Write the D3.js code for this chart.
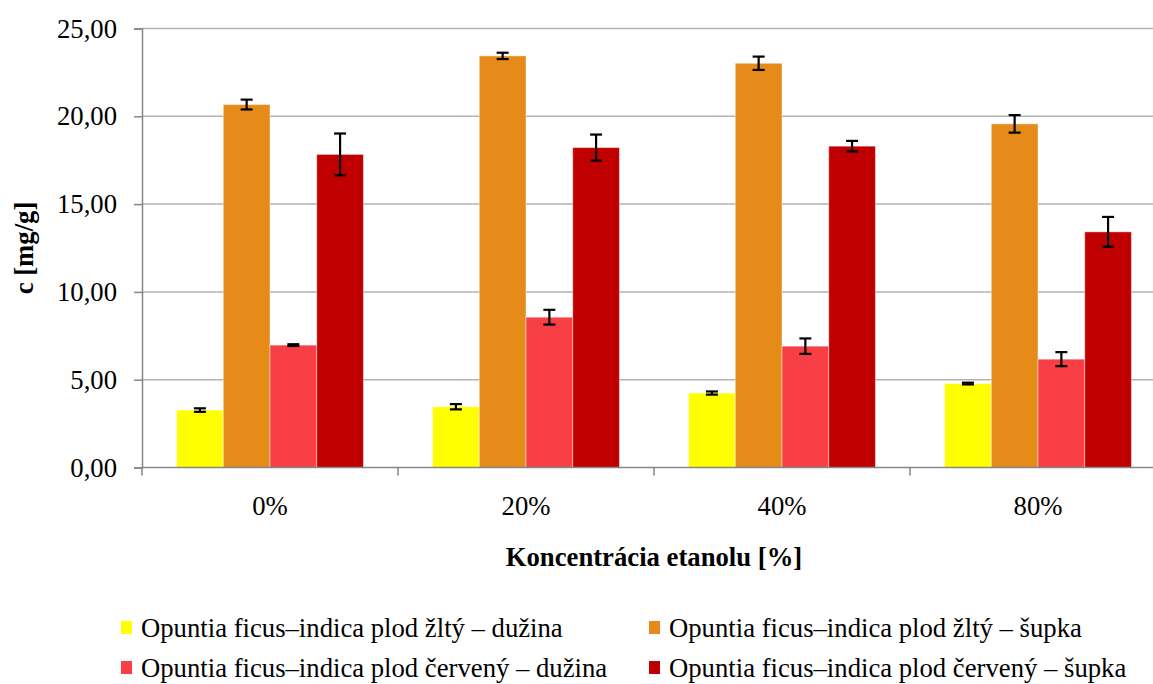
<!DOCTYPE html>
<html>
<head>
<meta charset="utf-8">
<script src="https://cdn.jsdelivr.net/npm/d3@7"></script>
<style>
  html, body { margin: 0; padding: 0; background: #fff; }
  svg { display: block; }
</style>
</head>
<body>
<svg id="chart" width="1153" height="684"></svg>
<script>
const categories = ["0%", "20%", "40%", "80%"];
const seriesNames = [
  "Opuntia ficus–indica plod žltý – dužina",
  "Opuntia ficus–indica plod žltý – šupka",
  "Opuntia ficus–indica plod červený – dužina",
  "Opuntia ficus–indica plod červený – šupka"
];
const seriesColors = ["#FFFF00", "#E68A1A", "#F83F46", "#C00000"];
const yellowPulp = [3.27, 3.46, 4.24, 4.78];
const yellowPeel = [20.67, 23.44, 23.02, 19.57];
const redPulp    = [6.97, 8.56, 6.91, 6.17];
const redPeel    = [17.83, 18.22, 18.30, 13.42];
const yellowPulpErr = [0.10, 0.15, 0.09, 0.05];
const yellowPeelErr = [0.28, 0.18, 0.38, 0.50];
const redPulpErr    = [0.05, 0.42, 0.44, 0.40];
const redPeelErr    = [1.19, 0.74, 0.30, 0.85];
const yTicks = [0, 5, 10, 15, 20, 25];
const yTitle = "c [mg/g]";
const xTitle = "Koncentrácia etanolu [%]";

(function () {
const FONT = "'Liberation Serif', 'Times New Roman', serif";
const FS = 26.7;
const values = [yellowPulp, yellowPeel, redPulp, redPeel];
const errors = [yellowPulpErr, yellowPeelErr, redPulpErr, redPeelErr];

const svg = d3.select("#chart").attr("font-family", FONT);
const pLeft = 142, pRight = 1166, pTop = 28.5, pBottom = 467.5;

const x = d3.scaleBand().domain(categories).range([pLeft, pRight])
  .paddingInner(0.27).paddingOuter(0.135);
const xs = d3.scaleBand().domain(d3.range(seriesNames.length)).range([0, x.bandwidth()]);
const y = d3.scaleLinear().domain([0, 25]).range([pBottom, pTop]);

// gridlines
svg.append("g").selectAll("line").data(yTicks.filter(d => d > 0)).join("line")
  .attr("x1", pLeft).attr("x2", pRight)
  .attr("y1", d => y(d)).attr("y2", d => y(d))
  .attr("stroke", "#b3b3b3").attr("stroke-width", 1.5);

// y axis
const yAxis = d3.axisLeft(y).tickValues(yTicks).tickSize(8).tickPadding(17)
  .tickFormat(d => d3.format(".2f")(d).replace(".", ","));
const gy = svg.append("g").attr("transform", `translate(${pLeft},0)`).call(yAxis)
  .attr("font-family", FONT).attr("font-size", FS);
gy.select(".domain").attr("stroke", "#868686").attr("stroke-width", 1.5);
gy.selectAll(".tick line").attr("stroke", "#868686").attr("stroke-width", 1.5);
gy.selectAll(".tick text").attr("fill", "#000");

// bars
const bars = [];
categories.forEach((c, i) => {
  values.forEach((s, k) => bars.push({c, k, v: s[i], e: errors[k][i]}));
});
svg.append("g").selectAll("rect").data(bars).join("rect")
  .attr("x", d => x(d.c) + xs(d.k))
  .attr("width", xs.bandwidth())
  .attr("y", d => y(d.v))
  .attr("height", d => y(0) - y(d.v))
  .attr("fill", d => seriesColors[d.k])
  .attr("stroke", "rgba(255,255,255,0.45)").attr("stroke-width", 1);

// error bars
const eg = svg.append("g").attr("stroke", "#000").attr("stroke-width", 2.2);
bars.forEach(d => {
  const cx = x(d.c) + xs(d.k) + xs.bandwidth() / 2;
  const y1 = y(d.v + d.e), y2 = y(d.v - d.e);
  eg.append("line").attr("x1", cx).attr("x2", cx).attr("y1", y1).attr("y2", y2);
  eg.append("line").attr("x1", cx - 6).attr("x2", cx + 6).attr("y1", y1).attr("y2", y1);
  eg.append("line").attr("x1", cx - 6).attr("x2", cx + 6).attr("y1", y2).attr("y2", y2);
});

// x axis
svg.append("line").attr("x1", pLeft).attr("x2", pRight).attr("y1", pBottom).attr("y2", pBottom)
  .attr("stroke", "#868686").attr("stroke-width", 1.5);
const step = x.step();
svg.append("g").selectAll("line").data(d3.range(categories.length + 1)).join("line")
  .attr("x1", i => pLeft + i * step).attr("x2", i => pLeft + i * step)
  .attr("y1", pBottom).attr("y2", pBottom + 8)
  .attr("stroke", "#868686").attr("stroke-width", 1.5);
svg.append("g").selectAll("text").data(categories).join("text")
  .attr("x", d => x(d) + x.bandwidth() / 2)
  .attr("y", 515)
  .attr("text-anchor", "middle").attr("font-size", FS)
  .text(d => d);

// axis titles
svg.append("text").attr("transform", `translate(33,${(pTop + pBottom) / 2}) rotate(-90)`)
  .attr("text-anchor", "middle").attr("font-size", FS).attr("font-weight", "bold")
  .text(yTitle);
svg.append("text").attr("x", 654).attr("y", 566)
  .attr("text-anchor", "middle").attr("font-size", FS).attr("font-weight", "bold")
  .text(xTitle);

// legend
const legPos = [[121, 628], [649, 628], [121, 668], [649, 668]];
const lg = svg.append("g").selectAll("g").data(seriesNames).join("g")
  .attr("transform", (d, i) => `translate(${legPos[i][0]},${legPos[i][1]})`);
lg.append("rect").attr("x", 0).attr("y", -7).attr("width", 11).attr("height", 13)
  .attr("fill", (d, i) => seriesColors[i]);
lg.append("text").attr("x", 20).attr("y", 8.5).attr("font-size", FS).text(d => d);
})();
</script>
</body>
</html>
